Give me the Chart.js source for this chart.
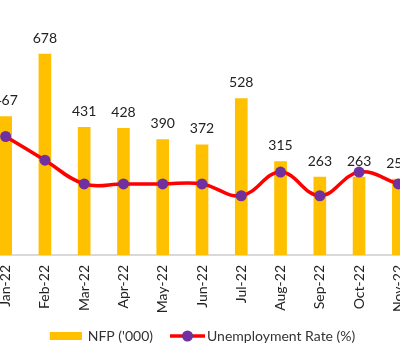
<!DOCTYPE html>
<html>
<head>
<meta charset="utf-8">
<script src="https://cdn.jsdelivr.net/npm/chart.js@4.4.0/dist/chart.umd.min.js"></script>
<style>
html, body { margin: 0; padding: 0; background: #fff; overflow: hidden; }
#wrap { position: absolute; left: -14px; top: 0; width: 432px; height: 360px; }
</style>
</head>
<body>
<div id="wrap"><canvas id="chart" width="432" height="360"></canvas></div>
<script>
const months = ["Jan-22", "Feb-22", "Mar-22", "Apr-22", "May-22", "Jun-22",
    "Jul-22", "Aug-22", "Sep-22", "Oct-22", "Nov-22"];
const nfp = [467, 678, 431, 428, 390, 372, 528, 315, 263, 263, 256];
const unemployment = [4.0, 3.8, 3.6, 3.6, 3.6, 3.6, 3.5, 3.7, 3.5, 3.7, 3.6];

const FONT = "Lato, 'Open Sans', sans-serif";

// legend icons (drawn centred on the legend box)
function barIcon() {
    const c = document.createElement("canvas");
    c.width = 34; c.height = 8;
    const g = c.getContext("2d");
    g.fillStyle = "#ffc000";
    g.fillRect(2, 0, 32, 8);
    return c;
}
function lineIcon() {
    const c = document.createElement("canvas");
    c.width = 42; c.height = 12;
    const g = c.getContext("2d");
    g.strokeStyle = "#ff0000";
    g.lineWidth = 3.5;
    g.beginPath(); g.moveTo(7, 6); g.lineTo(42, 6); g.stroke();
    g.fillStyle = "#7030a0";
    g.beginPath(); g.arc(24.5, 6, 5.5, 0, Math.PI * 2); g.fill();
    return c;
}
const legendIcons = [barIcon(), lineIcon()];

const barLabels = {
    id: "barLabels",
    afterDatasetsDraw(chart) {
        const meta = chart.getDatasetMeta(0);
        const ctx = chart.ctx;
        ctx.save();
        ctx.font = "14px " + FONT;
        ctx.fillStyle = "#222";
        ctx.textAlign = "center";
        ctx.textBaseline = "middle";
        meta.data.forEach((bar, i) => ctx.fillText(nfp[i], bar.x, bar.y - 16));
        ctx.restore();
    }
};

new Chart(document.getElementById("chart").getContext("2d"), {
    type: "bar",
    data: {
        labels: months,
        datasets: [{
            label: "NFP ('000)",
            data: nfp,
            backgroundColor: "#ffc000",
            barThickness: 12,
            yAxisID: "y",
            order: 1,
        }, {
            type: "line",
            label: "Unemployment Rate (%)",
            data: unemployment,
            borderColor: "#ff0000",
            borderWidth: 3.5,
            tension: 0.4,
            pointStyle: "circle",
            pointRadius: 5.5,
            pointBackgroundColor: "#7030a0",
            pointBorderColor: "#7030a0",
            pointBorderWidth: 0,
            yAxisID: "y2",
            order: 0,
        }]
    },
    options: {
        responsive: false,
        animation: false,
        layout: { autoPadding: false, padding: { top: 18, bottom: 7 } },
        plugins: {
            tooltip: { enabled: false },
            legend: {
                position: "bottom",
                labels: {
                    usePointStyle: true,
                    pointStyleWidth: 32,
                    padding: 15,
                    color: "#333",
                    font: { family: FONT, size: 14 },
                    generateLabels(chart) {
                        const items = Chart.defaults.plugins.legend.labels.generateLabels(chart);
                        items.sort((a, b) => a.datasetIndex - b.datasetIndex);
                        items.forEach(it => { it.pointStyle = legendIcons[it.datasetIndex]; });
                        return items;
                    },
                },
            },
        },
        scales: {
            x: {
                offset: true,
                grid: { display: true, drawOnChartArea: false, drawTicks: false },
                border: { display: true, color: "#d9d9d9", width: 2 },
                ticks: {
                    color: "#222",
                    font: { family: FONT, size: 14 },
                    minRotation: 90,
                    maxRotation: 90,
                    padding: 10,
                },
                afterFit(scale) {
                    scale.height = 59;
                    scale.paddingLeft = 0;
                    scale.paddingRight = 0;
                },
            },
            y: { display: false, min: 0, max: 800 },
            y2: { display: false, min: 3.0, max: 5.0 },
        },
    },
    plugins: [barLabels],
});
</script>
</body>
</html>
